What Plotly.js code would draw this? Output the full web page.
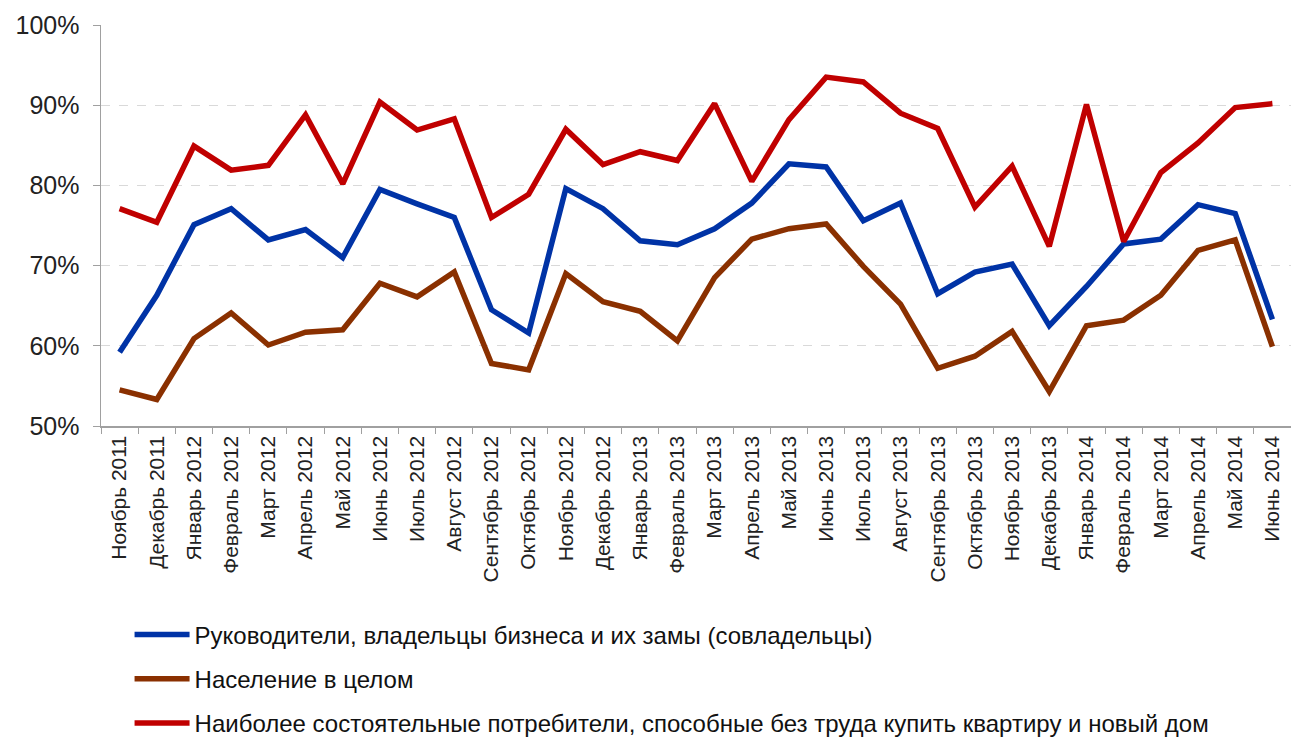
<!DOCTYPE html>
<html><head><meta charset="utf-8">
<script src="https://cdn.plot.ly/plotly-3.0.1.min.js"></script>
<style>html,body{margin:0;padding:0;background:#fff}#c{width:1291px;height:737px}</style>
</head><body><div id="c"></div>
<script>
const months = ["Ноябрь 2011","Декабрь 2011","Январь 2012","Февраль 2012","Март 2012","Апрель 2012","Май 2012","Июнь 2012","Июль 2012","Август 2012","Сентябрь 2012","Октябрь 2012","Ноябрь 2012","Декабрь 2012","Январь 2013","Февраль 2013","Март 2013","Апрель 2013","Май 2013","Июнь 2013","Июль 2013","Август 2013","Сентябрь 2013","Октябрь 2013","Ноябрь 2013","Декабрь 2013","Январь 2014","Февраль 2014","Март 2014","Апрель 2014","Май 2014","Июнь 2014"];
const seriesNames = ["Руководители, владельцы бизнеса и их замы (совладельцы)","Население в целом","Наиболее состоятельные потребители, способные без труда купить квартиру и новый дом"];
const executives = [59.2,66.3,75.1,77.1,73.2,74.5,71.0,79.5,77.7,76.0,64.5,61.6,79.6,77.1,73.1,72.6,74.6,77.8,82.7,82.3,75.6,77.8,66.5,69.2,70.2,62.5,67.4,72.7,73.3,77.6,76.5,63.3];
const population = [54.5,53.3,60.9,64.1,60.1,61.7,62.0,67.8,66.1,69.2,57.8,57.0,69.0,65.5,64.3,60.6,68.5,73.3,74.6,75.2,69.9,65.2,57.2,58.7,61.8,54.3,62.5,63.2,66.3,71.9,73.2,59.9];
const wealthy = [77.1,75.4,84.9,81.9,82.5,88.8,80.2,90.4,86.9,88.3,76.0,78.9,87.0,82.6,84.2,83.1,90.2,80.5,88.2,93.5,92.9,89.0,87.1,77.3,82.4,72.4,90.1,73.0,81.6,85.3,89.7,90.2];
const yTicks = [50,60,70,80,90,100];
const yTickText = ["50%","60%","70%","80%","90%","100%"];
const colors = ["#0033a6","#8a3000","#c00000"];
const data = [executives, population, wealthy];

const traces = data.map((d,i)=>({
  type:"scatter", mode:"lines", x:months, y:d, name:seriesNames[i],
  legendgroup:"g"+i,
  line:{color:colors[i], width:5.5, shape:"linear"}
}));

const layout = {
  width:1291, height:737,
  margin:{l:101, r:0, t:25, b:311, autoexpand:false},
  paper_bgcolor:"#fff", plot_bgcolor:"#fff",
  font:{family:"Liberation Sans, Arial, sans-serif", color:"#1a1a1a"},
  showlegend:true,
  legend:{
    orientation:"v", x:0.024, y:-0.465, xanchor:"left", yanchor:"top",
    font:{family:"Liberation Sans, Arial", size:24, color:"#111"},
    tracegroupgap:10, itemwidth:55, bgcolor:"rgba(0,0,0,0)"
  },
  xaxis:{
    type:"category", tickangle:-90, tickfont:{size:21, color:"#222"},
    showline:true, linecolor:"#a0a0a0", linewidth:1.5,
    ticks:"outside", ticklen:6, tickcolor:"#a0a0a0", tickson:"boundaries",
    showgrid:false, range:[-0.5, 31.5], automargin:false
  },
  yaxis:{
    range:[50,100], tickvals:yTicks, ticktext:yTickText,
    tickfont:{size:25, color:"#222"},
    showline:true, linecolor:"#a0a0a0", linewidth:1.5,
    ticks:"outside", ticklen:7, tickcolor:"#a0a0a0",
    showgrid:true, gridcolor:"#d9d9d9", griddash:"dash", gridwidth:1,
    zeroline:false, ticklabelstandoff:8, automargin:false
  }
};
Plotly.newPlot("c", traces, layout, {displayModeBar:false, staticPlot:true});
</script></body></html>
